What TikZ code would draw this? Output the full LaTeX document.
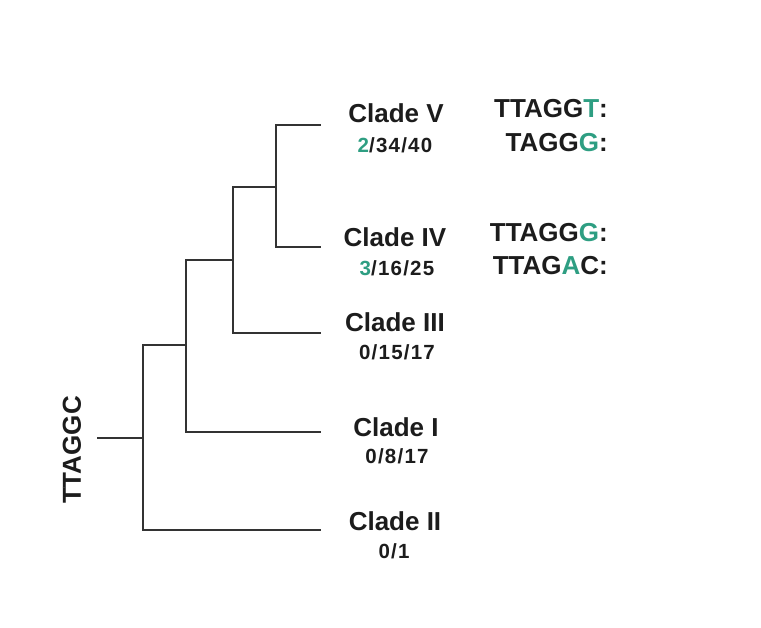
\documentclass[tikz,border=0pt]{standalone}
\usepackage{fontspec}
\setmainfont{Liberation Sans}
\definecolor{accent}{HTML}{2E9E82}
\definecolor{ink}{HTML}{1C1C1C}
\definecolor{branch}{HTML}{333333}
\begin{document}
\begin{tikzpicture}[x=1pt,y=-1pt,
  clade/.style={inner sep=0pt,anchor=base,text=ink,font=\fontsize{26}{28}\selectfont\bfseries},
  counts/.style={inner sep=0pt,anchor=base,text=ink,font=\fontsize{20.5}{22}\selectfont\bfseries\addfontfeature{LetterSpace=6}},
  seq/.style={inner sep=0pt,anchor=base east,text=ink,font=\fontsize{26}{28}\selectfont\bfseries},
  tree/.style={draw=branch,line width=2.2pt,line cap=rect}]
\useasboundingbox (0,0) rectangle (761,628);
% tree coordinates
\coordinate (lV) at (320,125);
\coordinate (lIV) at (320,247);
\coordinate (lIII) at (320,333);
\coordinate (lI) at (320,432);
\coordinate (lII) at (320,530);
\coordinate (c3) at (276,187);
\coordinate (c3b) at (233,187);
\coordinate (c2) at (233,260);
\coordinate (c2b) at (186,260);
\coordinate (c1) at (186,345);
\coordinate (c1b) at (143,345);
\coordinate (c0) at (143,438);
\coordinate (root) at (98,438);
\draw[tree] (lV) -| (c3) |- (lIV);
\draw[tree] (c3) -- (c3b);
\draw[tree] (c3b) |- (lIII);
\draw[tree] (c2) -- (c2b);
\draw[tree] (c2b) |- (lI);
\draw[tree] (c1) -- (c1b);
\draw[tree] (c1b) |- (lII);
\draw[tree] (root) -- (c0);
% labels
\node[clade] (nV) at (396,123) {Clade V};
\node[counts] (kV) at (395,153) {\textcolor{accent}{2}/34/40};
\node[clade] (nIV) at (395,247) {Clade IV};
\node[counts] (kIV) at (397,276) {\textcolor{accent}{3}/16/25};
\node[clade] (nIII) at (395,332) {Clade III};
\node[counts] (kIII) at (397,360) {0/15/17};
\node[clade] (nI) at (396,436) {Clade I};
\node[counts] (kI) at (397,464) {0/8/17};
\node[clade] (nII) at (395,530) {Clade II};
\node[counts] (kII) at (394,558) {0/1};
\node[seq] (s1) at (608,118) {TTAGG\textcolor{accent}{T}:};
\node[seq] (s2) at (608,152) {TAGG\textcolor{accent}{G}:};
\node[seq] (s3) at (608,242) {TTAGG\textcolor{accent}{G}:};
\node[seq] (s4) at (608,275) {TTAG\textcolor{accent}{A}C:};
\node[inner sep=0pt,rotate=90,text=ink,font=\fontsize{26}{28}\selectfont\bfseries] (anc) at (72,450) {TTAGGC};
\end{tikzpicture}
\end{document}
